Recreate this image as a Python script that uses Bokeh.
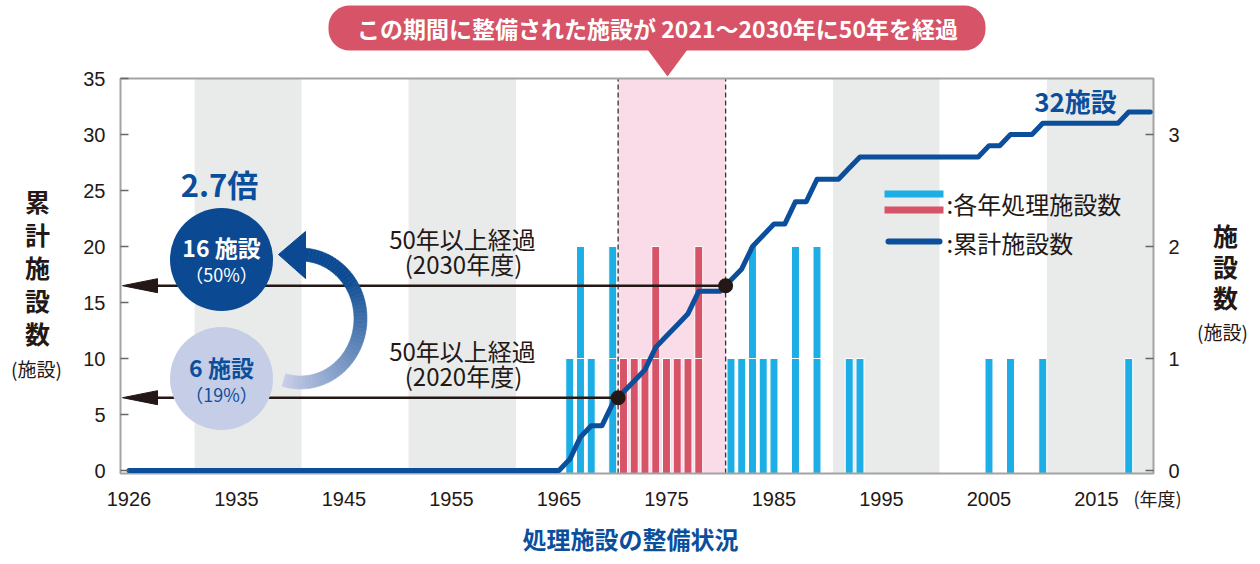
import numpy as np
from bokeh.plotting import figure
from bokeh.models import Range1d, LinearAxis, FixedTicker, Label
from bokeh.embed import file_html
from bokeh.resources import INLINE

# ---------------- data ----------------
bar_years = [1966, 1967, 1968, 1970, 1971, 1972, 1973, 1974, 1975, 1976, 1977, 1978,
             1981, 1982, 1983, 1984, 1985, 1987, 1989, 1992, 1993, 2005, 2007, 2010, 2018]
bar_counts = [1, 2, 1, 2, 1, 1, 1, 2, 1, 1, 1, 2,
              1, 1, 2, 1, 1, 2, 2, 1, 1, 1, 1, 1, 1]
cum_years = [1925, 1965, 1966, 1967, 1968, 1969, 1970, 1971, 1972, 1973, 1974, 1975, 1976,
             1977, 1978, 1980, 1981, 1982, 1983, 1984, 1985, 1986, 1987, 1988, 1989, 1991,
             1992, 1993, 2004, 2005, 2006, 2007, 2009, 2010, 2017, 2018, 2020]
cum_values = [0, 0, 1, 3, 4, 4, 6, 7, 8, 9, 11, 12, 13,
              14, 16, 16, 17, 18, 20, 21, 22, 22, 24, 24, 26, 26,
              27, 28, 28, 29, 29, 30, 30, 31, 31, 32, 32]
x_tick_pos = [1925, 1935, 1945, 1955, 1965, 1975, 1985, 1995, 2005, 2015]
x_tick_labels = ["1926", "1935", "1945", "1955", "1965", "1975", "1985", "1995", "2005", "2015"]
left_ticks = [0, 5, 10, 15, 20, 25, 30, 35]
right_ticks = [0, 1, 2, 3]
period = (1971, 1980)          # facilities that pass 50 years in 2021-2030
threshold_2020 = 1970          # built up to FY1970 -> 50 years by FY2020
threshold_2030 = 1980
gray_decades = [(1931.1, 1941.05), (1951.0, 1961.0), (1990.5, 2000.4), (2010.4, 2021.0)]

# ---------------- colours / fonts ----------------
BLUE = "#1eaee6"
RED = "#d75367"
PINK = "#f9dce8"
GRAY = "#e9ebea"
DARK = "#0b4f9c"
DARK2 = "#0b4a92"
LIGHT = "#c6cde7"
TXT = "#231815"
JP = "Noto Sans CJK JP"
NUM = "Liberation Sans"

# ---------------- geometry (page px) ----------------
W, H = 1252, 560
FRAME_L, FRAME_R, FRAME_T, FRAME_B = 120, 1153, 78, 473
PPY = 10.75
X_START = 1924.21      # year at FRAME_L
Y0 = 470               # page y of value 0
PPU = 11.2             # px per left-axis unit


def X(px):
    return X_START + (px - FRAME_L) / PPY


def Y(py):
    return (Y0 - py) / PPU


p = figure(width=W, height=H, output_backend="svg", toolbar_location=None,
           x_range=Range1d(X(0), X(W)), y_range=Range1d(Y(H), Y(0)),
           min_border_left=0, min_border_right=0, min_border_top=0, min_border_bottom=0,
           outline_line_color=None, background_fill_color="white",
           border_fill_color="white")
p.xgrid.visible = False
p.ygrid.visible = False
p.extra_y_ranges = {"right": Range1d(Y(H) / 10, Y(0) / 10)}

# axes (fixed at the chart frame)
p.xaxis.fixed_location = Y(FRAME_B)
p.xaxis.ticker = FixedTicker(ticks=x_tick_pos)
p.xaxis.major_label_overrides = {t: l for t, l in zip(x_tick_pos, x_tick_labels)}
p.xaxis.axis_line_color = None
p.xaxis.major_tick_line_color = None
p.xaxis.minor_tick_line_color = None
p.xaxis.major_label_standoff = 12
p.xaxis.major_label_text_font = NUM
p.xaxis.major_label_text_font_size = "20px"
p.xaxis.major_label_text_color = TXT

p.yaxis.fixed_location = X(FRAME_L)
p.yaxis.ticker = FixedTicker(ticks=left_ticks)
ry = LinearAxis(y_range_name="right", ticker=FixedTicker(ticks=right_ticks),
                fixed_location=X(FRAME_R))
p.add_layout(ry, "right")
for ax in (p.yaxis[0], ry):
    ax.axis_line_color = None
    ax.major_tick_in = 8
    ax.major_tick_out = 0
    ax.major_tick_line_color = "#666666"
    ax.major_tick_line_width = 1.5
    ax.minor_tick_line_color = None
    ax.major_label_standoff = 15
    ax.major_label_text_font = NUM
    ax.major_label_text_font_size = "20px"
    ax.major_label_text_color = TXT

YB = Y(FRAME_B)
# background bands
p.quad(left=[a for a, b in gray_decades], right=[min(b, X(FRAME_R)) for a, b in gray_decades],
       bottom=YB, top=35, fill_color=GRAY, line_color=None)
p.quad(left=[period[0] - 0.5], right=[period[1] + 0.5], bottom=YB, top=35,
       fill_color=PINK, line_color=None)

# bars (stacked unit blocks, right axis)
bx, bb, bt, bc = [], [], [], []
for yr, c in zip(bar_years, bar_counts):
    for k in range(c):
        bx.append(yr)
        bb.append(k if k > 0 else YB / 10)
        bt.append(k + 1)
        bc.append(RED if period[0] <= yr <= period[1] else BLUE)
p.vbar(x=bx, bottom=bb, top=bt, width=0.74, fill_color=bc, line_color="white",
       line_width=1, y_range_name="right")

# dashed period boundaries
p.segment(x0=[period[0] - 0.5, period[1] + 0.5], y0=YB, x1=[period[0] - 0.5, period[1] + 0.5],
          y1=35, line_color="#333333", line_width=1.3, line_dash="5 3")

# frame
p.quad(left=[X(FRAME_L)], right=[X(FRAME_R)], bottom=[YB], top=[35],
       fill_color=None, line_color="#a3a3a3", line_width=2)

# threshold arrows
tx = [threshold_2020 + 0.5, threshold_2030 + 0.5]
ty = [float(np.interp(t, cum_years, cum_values)) for t in tx]
p.segment(x0=tx, y0=ty, x1=[X(150)] * 2, y1=ty, line_color=TXT, line_width=2.5)
dh = 7 / PPU
p.patches(xs=[[X(122), X(157), X(157)] for _ in ty],
          ys=[[v, v + dh, v - dh] for v in ty], fill_color=TXT, line_color=TXT)

# cumulative line
p.line(cum_years, cum_values, line_width=5, line_color=DARK, line_join="round", line_cap="round")
p.scatter(tx, ty, size=15, marker="circle", fill_color=TXT, line_color=None)

# circles
n20 = int(np.interp(threshold_2020, cum_years, cum_values))
n30 = int(np.interp(threshold_2030, cum_years, cum_values))
total = cum_values[-1]
p.scatter([X(221)], [Y(259)], size=103, marker="circle", fill_color=DARK2, line_color=None)
p.scatter([X(221)], [Y(378)], size=103, marker="circle", fill_color=LIGHT, line_color=None)

# curved gradient arrow
cx, cy, rx, ryy, hw = 300, 318, 60, 64, 6.5
ths = np.linspace(np.radians(-106), np.radians(92), 60)
c0 = np.array([198, 205, 232])
c1 = np.array([11, 74, 146])
pxs, pys, pcs = [], [], []
for i in range(len(ths) - 1):
    a0, a1 = ths[i], ths[i + 1]
    pts = [((rx + hw) * np.cos(a0), (ryy + hw) * np.sin(a0)),
           ((rx + hw) * np.cos(a1), (ryy + hw) * np.sin(a1)),
           ((rx - hw) * np.cos(a1), (ryy - hw) * np.sin(a1)),
           ((rx - hw) * np.cos(a0), (ryy - hw) * np.sin(a0))]
    pxs.append([X(cx + u) for u, v in pts])
    pys.append([Y(cy - v) for u, v in pts])
    t = min(1.0, (i / (len(ths) - 2)) * 1.35)
    col = (c0 + (c1 - c0) * t).astype(int)
    pcs.append("#%02x%02x%02x" % tuple(col))
p.patches(xs=pxs, ys=pys, fill_color=pcs, line_color=pcs, line_width=0.6)
p.patch([X(278), X(305), X(305)], [Y(254), Y(231), Y(278)], fill_color=DARK2, line_color=DARK2)

# legend
p.quad(left=[X(884)], right=[X(943)], bottom=[Y(197)], top=[Y(190)], fill_color=BLUE, line_color=None)
p.quad(left=[X(884)], right=[X(943)], bottom=[Y(213)], top=[Y(206)], fill_color=RED, line_color=None)
p.line([X(888), X(939)], [Y(241), Y(241)], line_width=6, line_color=DARK, line_cap="round")


# callout
def rrect(x0, y0, x1, y1, r):
    pts = []
    for (ccx, ccy, a0) in [(x1 - r, y0 + r, -90), (x1 - r, y1 - r, 0), (x0 + r, y1 - r, 90), (x0 + r, y0 + r, 180)]:
        for a in np.linspace(a0, a0 + 90, 10):
            pts.append((ccx + r * np.cos(np.radians(a)), ccy + r * np.sin(np.radians(a))))
    return [X(a) for a, b in pts], [Y(b) for a, b in pts]


cxs, cys = rrect(328, 5, 985, 50, 21)
p.patch(cxs, cys, fill_color=RED, line_color=None)
p.patch([X(647), X(687), X(667)], [Y(49), Y(49), Y(76)], fill_color=RED, line_color=None)


def label(px, py, text, size, color=TXT, bold=False, align="center", font=JP):
    p.add_layout(Label(x=X(px), y=Y(py), text=text, text_font=font,
                       text_font_size=f"{size}px", text_color=color,
                       text_font_style="bold" if bold else "normal",
                       text_align=align, text_baseline="middle"))


label(657, 27, "この期間に整備された施設が 2021～2030年に50年を経過", 23, "white", True)
label(462, 238, "50年以上経過", 24)
label(463, 263, "(2030年度)", 24)
label(462, 350, "50年以上経過", 24)
label(463, 375, "(2020年度)", 24)
label(946, 203, ":各年処理施設数", 24, align="left")
label(946, 242, ":累計施設数", 24, align="left")
label(1075, 100, f"{total}施設", 26, DARK, True)
label(219, 183, f"{n30 / n20:.1f}倍", 31, DARK, True)
label(221, 246, f"{n30} 施設", 23, "white", True)
label(221, 273, f"（{round(100 * n30 / total)}%）", 18, "white")
label(221, 366, f"{n20} 施設", 23, DARK, True)
label(221, 393, f"（{round(100 * n20 / total)}%）", 18, DARK)
for i, ch in enumerate("累計施設数"):
    label(37, 200 + i * 33.2, ch, 25, TXT, True)
label(36, 368, "(施設)", 19)
for i, ch in enumerate("施設数"):
    label(1225, 234 + i * 31, ch, 25, TXT, True)
label(1222, 331, "(施設)", 19)
label(1157, 497, "(年度)", 18)
label(630, 538, "処理施設の整備状況", 24, DARK, True)

open("out.html", "w").write(file_html(p, INLINE))
